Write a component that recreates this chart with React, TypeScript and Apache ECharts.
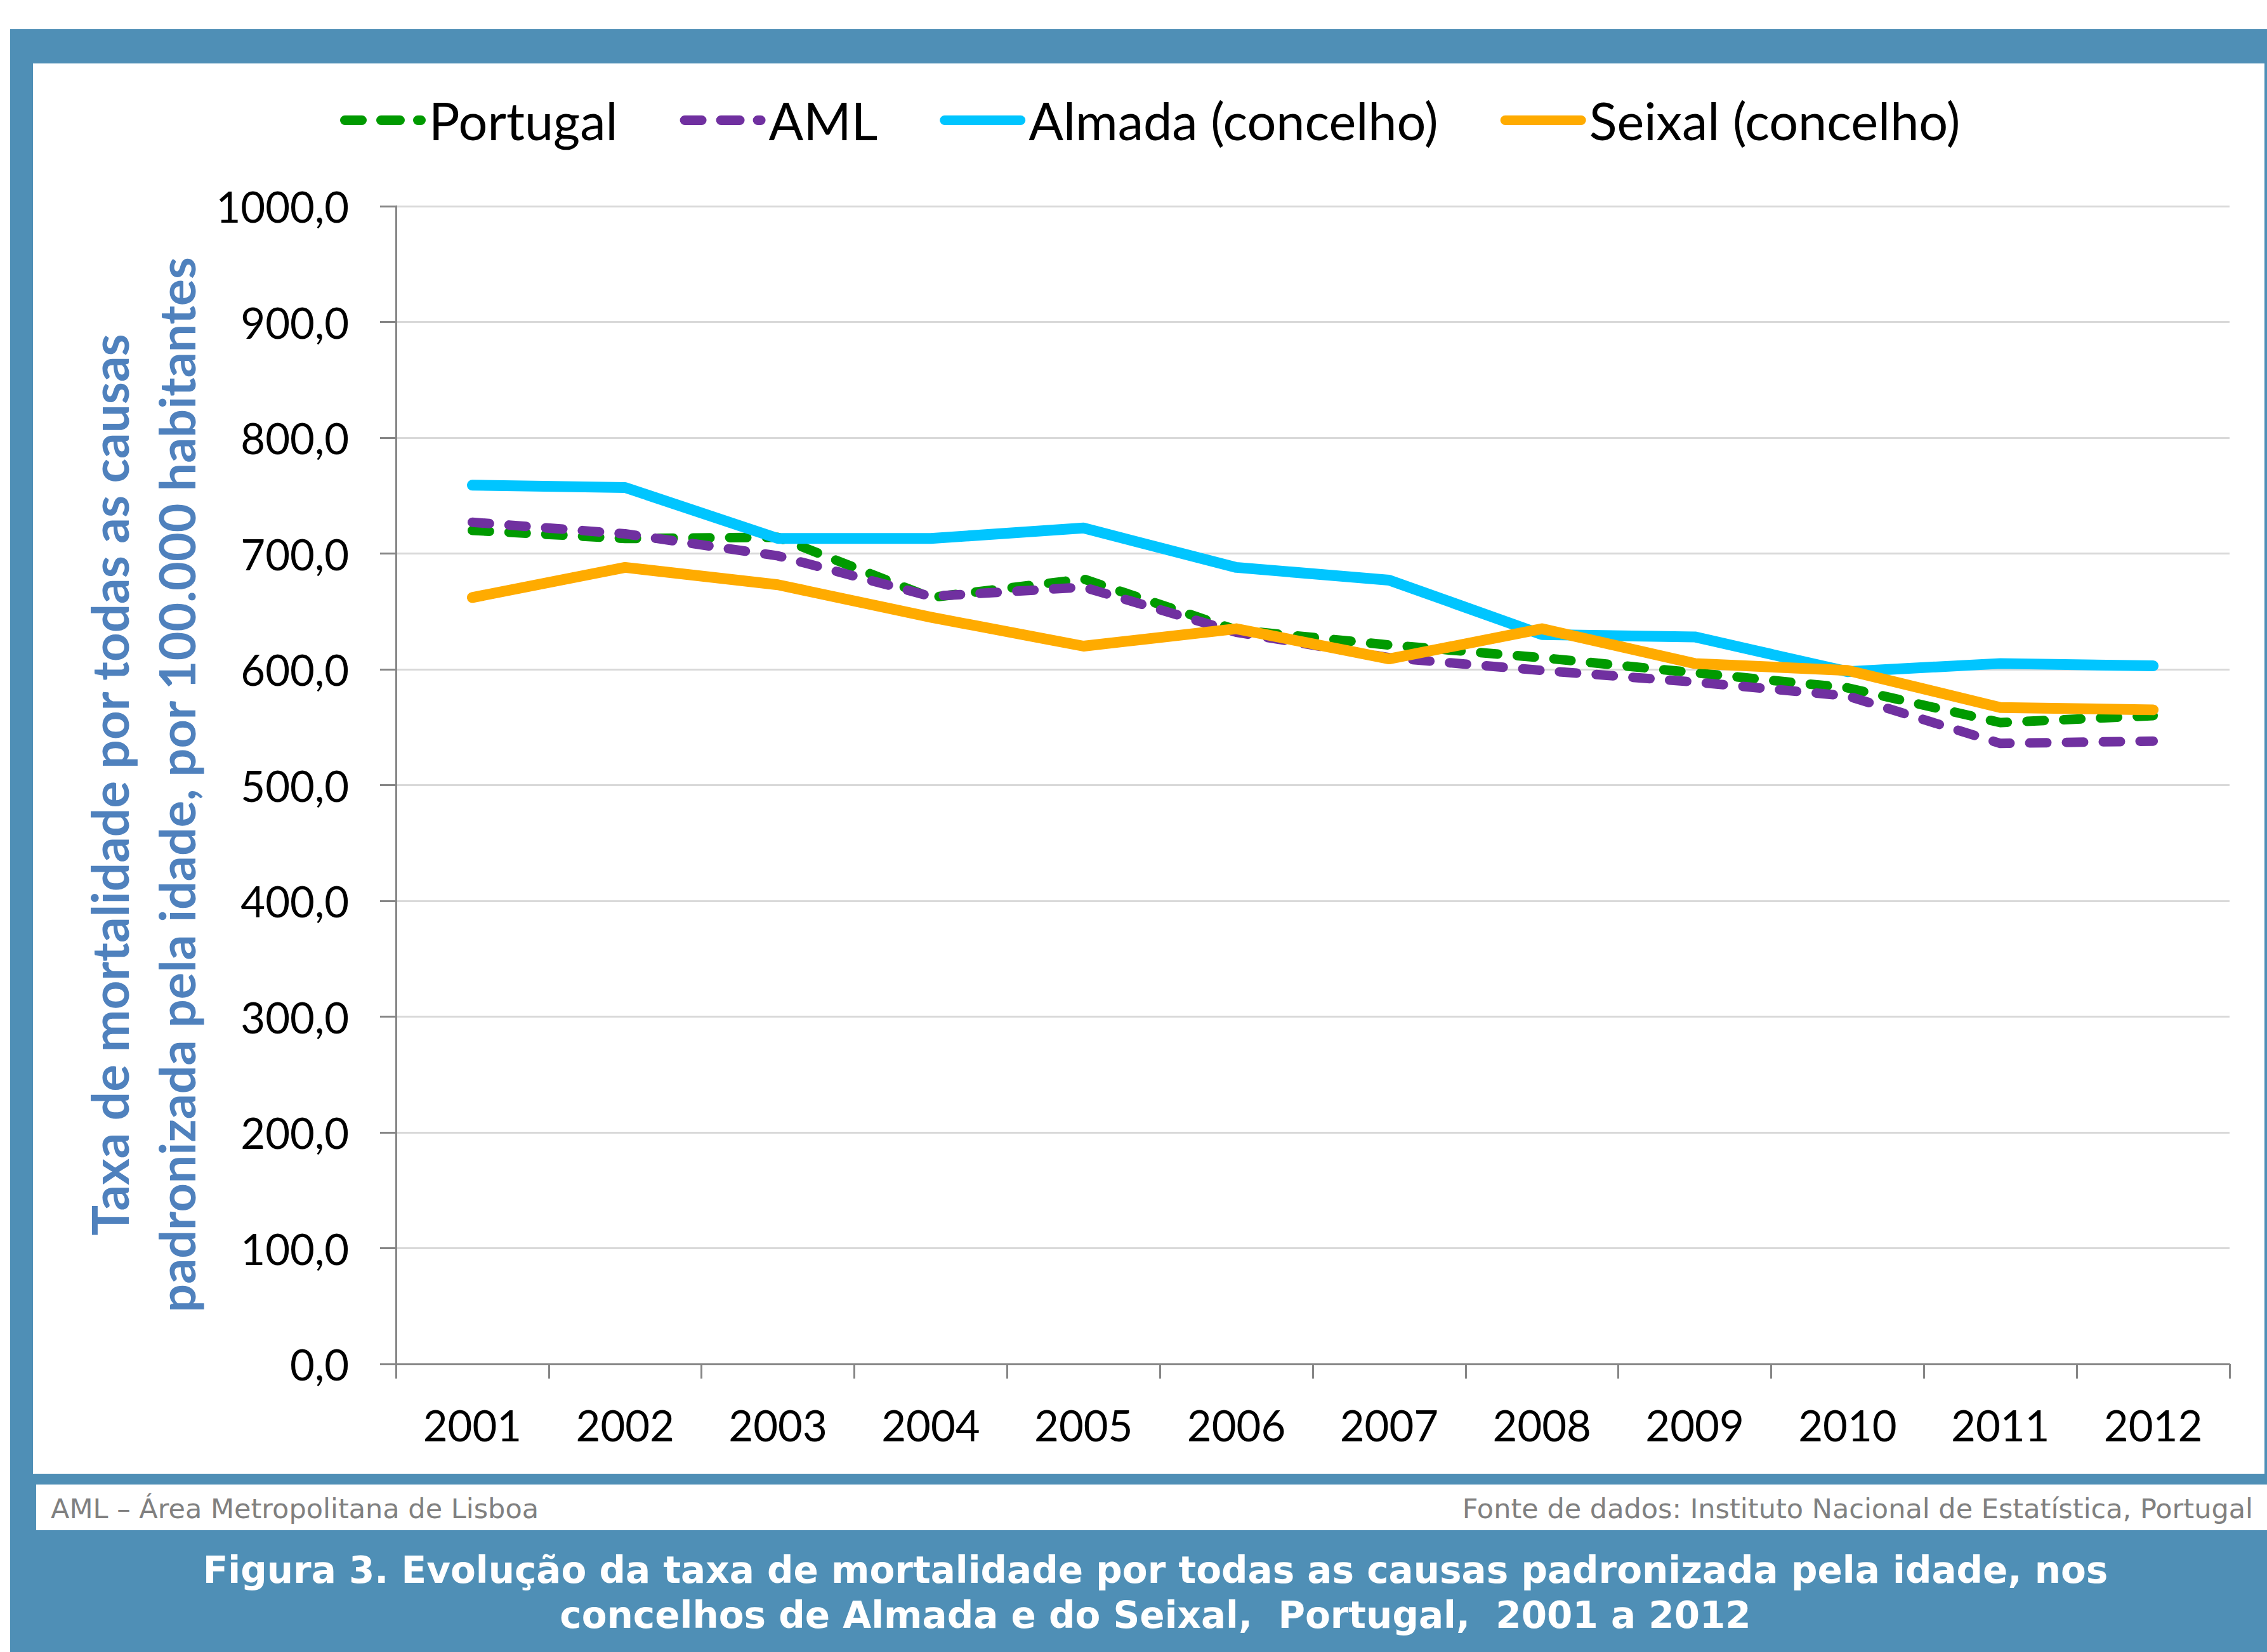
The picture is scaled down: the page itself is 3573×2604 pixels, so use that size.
import React, { useEffect, useRef } from "react";
import * as echarts from "echarts";

const categories = ["2001", "2002", "2003", "2004", "2005", "2006", "2007", "2008", "2009", "2010", "2011", "2012"];
const seriesNames = ["Portugal", "AML", "Almada (concelho)", "Seixal (concelho)"];
const portugal = [720, 713, 714, 662, 678, 634, 621, 610, 597, 584, 554, 560];
const aml = [727, 717, 698, 663, 671, 632, 610, 599, 589, 577, 536, 538];
const almada = [759, 757, 713, 713, 722, 688, 677, 630, 628, 598, 605, 603];
const seixal = [662, 688, 673, 645, 620, 635, 609, 635, 605, 599, 567, 565];
const yTitleLines = ["Taxa de mortalidade por todas as causas", "padronizada pela idade, por 100.000 habitantes"];
const noteLeft = "AML – Área Metropolitana de Lisboa";
const noteRight = "Fonte de dados: Instituto Nacional de Estatística, Portugal";
const captionLines = [
  "Figura 3. Evolução da taxa de mortalidade por todas as causas padronizada pela idade, nos",
  "concelhos de Almada e do Seixal,  Portugal,  2001 a 2012",
];

const W = 3573;
const H = 2604;
const FRAME = "#4f8fb6";
const FONT = "Lato";

function seg(a: number, b: number, h: number) {
  const r = h / 2;
  return `M${a + r},0 L${b - r},0 A${r},${r} 0 0 1 ${b - r},${h} L${a + r},${h} A${r},${r} 0 0 1 ${a + r},0 Z`;
}
const dashIcon = "path://" + seg(0, 42, 15) + " " + seg(57, 102, 15) + " " + seg(115, 135, 15);
const solidIcon = "path://" + seg(0, 135, 15);

export default function App() {
  const ref = useRef<HTMLDivElement>(null);
  useEffect(() => {
    if (!ref.current) return;
    const chart = echarts.init(ref.current, null, { renderer: "svg", width: W, height: H });
    const dashed = (color: string, data: number[], name: string) => ({
      name,
      type: "line",
      data,
      symbol: "none",
      showSymbol: false,
      itemStyle: { color },
      lineStyle: { color, width: 15, type: [27, 31], cap: "round", join: "round" },
    });
    const solid = (color: string, data: number[], name: string) => ({
      name,
      type: "line",
      data,
      symbol: "none",
      showSymbol: false,
      itemStyle: { color },
      lineStyle: { color, width: 17, type: "solid", cap: "round", join: "round" },
    });
    chart.setOption({
      animation: false,
      backgroundColor: "#ffffff",
      graphic: [
        { type: "rect", z: -10, shape: { x: 16, y: 46, width: W - 16, height: H - 46 }, style: { fill: FRAME } },
        { type: "rect", z: -9, shape: { x: 52, y: 100, width: 3517, height: 2223 }, style: { fill: "#ffffff" } },
        { type: "rect", z: -9, shape: { x: 57, y: 2340, width: W - 57, height: 72 }, style: { fill: "#ffffff" } },
        {
          type: "text", z: 10, x: 172, y: 1237, rotation: Math.PI / 2,
          style: { text: yTitleLines[0], fill: "#4f81bd", font: `bold 80px ${FONT}`, align: "center", verticalAlign: "middle" },
        },
        {
          type: "text", z: 10, x: 277, y: 1237, rotation: Math.PI / 2,
          style: { text: yTitleLines[1], fill: "#4f81bd", font: `bold 79px ${FONT}`, align: "center", verticalAlign: "middle" },
        },
        {
          type: "text", z: 10, x: 80, y: 2378,
          style: { text: noteLeft, fill: "#808080", font: `43px "DejaVu Sans"`, align: "left", verticalAlign: "middle" },
        },
        {
          type: "text", z: 10, x: 3551, y: 2378,
          style: { text: noteRight, fill: "#808080", font: `43px "DejaVu Sans"`, align: "right", verticalAlign: "middle" },
        },
        {
          type: "text", z: 10, x: 1821, y: 2475,
          style: { text: captionLines[0], fill: "#ffffff", font: `bold 58px "DejaVu Sans"`, align: "center", verticalAlign: "middle" },
        },
        {
          type: "text", z: 10, x: 1821, y: 2546,
          style: { text: captionLines[1], fill: "#ffffff", font: `bold 58px "DejaVu Sans"`, align: "center", verticalAlign: "middle" },
        },
      ],
      legend: {
        left: 531,
        top: 144,
        itemWidth: 135,
        itemHeight: 15,
        itemGap: 98,
        symbolKeepAspect: false,
        data: [
          { name: seriesNames[0], icon: dashIcon },
          { name: seriesNames[1], icon: dashIcon },
          { name: seriesNames[2], icon: solidIcon },
          { name: seriesNames[3], icon: solidIcon },
        ],
        textStyle: { fontFamily: FONT, fontSize: 81, color: "#000" },
      },
      grid: { left: 624, right: W - 3514, top: 325, bottom: H - 2150 },
      xAxis: {
        type: "category",
        data: categories,
        boundaryGap: true,
        axisLine: { lineStyle: { color: "#868686", width: 3 } },
        axisTick: { show: true, length: 23, interval: 0, lineStyle: { color: "#868686", width: 3 } },
        axisLabel: { interval: 0, margin: 62, fontFamily: FONT, fontSize: 67, color: "#000" },
        splitLine: { show: false },
      },
      yAxis: {
        type: "value",
        min: 0,
        max: 1000,
        interval: 100,
        axisLine: { show: true, lineStyle: { color: "#868686", width: 3 } },
        axisTick: { show: true, length: 25, lineStyle: { color: "#868686", width: 3 } },
        axisLabel: {
          margin: 74,
          fontFamily: FONT,
          fontSize: 67,
          color: "#000",
          formatter: (v: number) => v.toFixed(1).replace(".", ","),
        },
        splitLine: { show: true, lineStyle: { color: "#d9d9d9", width: 3 } },
      },
      series: [
        dashed("#009a00", portugal, seriesNames[0]),
        dashed("#7030a0", aml, seriesNames[1]),
        solid("#00c5ff", almada, seriesNames[2]),
        solid("#ffab00", seixal, seriesNames[3]),
      ],
    });
    return () => chart.dispose();
  }, []);
  return <div ref={ref} style={{ position: "absolute", left: 0, top: 0, width: W, height: H }} />;
}
